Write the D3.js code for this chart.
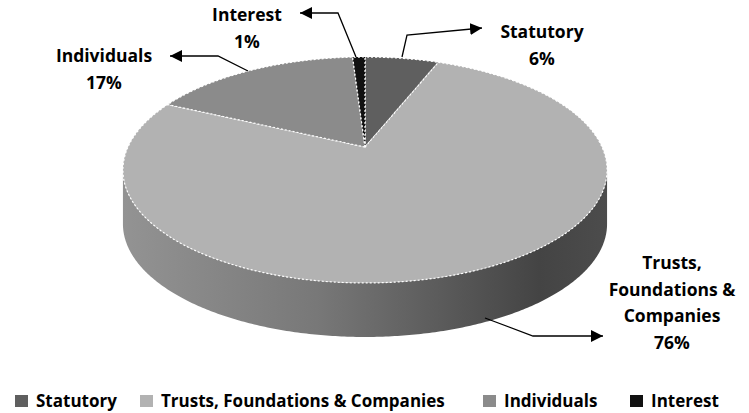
<!DOCTYPE html>
<html>
<head>
<meta charset="utf-8">
<script src="https://cdn.jsdelivr.net/npm/d3@7"></script>
<style>
  body { margin: 0; background: #fff; }
  svg { display: block; font-family: "Open Sans", sans-serif; font-weight: bold; }
</style>
</head>
<body>
<div id="chart"></div>
<script>
// data
const categories = ["Statutory", "Trusts, Foundations & Companies", "Individuals", "Interest"];
const values = [6, 76, 17, 1];
const labelLines = [["Statutory"], ["Trusts,", "Foundations &", "Companies"], ["Individuals"], ["Interest"]];
const sliceColors = ["#5f5f5f", "#b2b2b2", "#8b8b8b", "#111111"];

const width = 749, height = 413;

const svg = d3.select("#chart").append("svg")
    .attr("width", width)
    .attr("height", height);

const color = d3.scaleOrdinal().domain(categories).range(sliceColors);

// fake 3d: perspective tilted disc
const cx = 365, cy = 147;   // apex of the wedges
const a = 237, b = 108.3, c = 0.2035;
const depth = 54;

function project(theta, drop) {
    const u = Math.sin(theta), v = Math.cos(theta);
    const s = 1 / (1 + c * v);
    return [cx + a * u * s, cy - b * v * s + drop];
}

function arcPoints(t0, t1, drop) {
    const n = Math.max(2, Math.ceil(Math.abs(t1 - t0) / 0.01));
    return d3.range(n + 1).map(i => project(t0 + (t1 - t0) * i / n, drop));
}

const pie = d3.pie().sort(null).value(d => d.value);
const slices = pie(categories.map((k, i) => ({ key: k, value: values[i] })));

// side gradient
const defs = svg.append("defs");
const grad = defs.append("linearGradient")
    .attr("id", "sideGrad")
    .attr("x1", "0%").attr("x2", "100%").attr("y1", "0%").attr("y2", "0%");
[[0, "#939393"], [0.4, "#787878"], [0.7, "#565656"], [0.86, "#444444"], [1, "#4c4c4c"]]
    .forEach(s => grad.append("stop").attr("offset", s[0]).attr("stop-color", s[1]));

defs.append("marker")
    .attr("id", "arrow")
    .attr("viewBox", "0 0 10 10")
    .attr("refX", 10).attr("refY", 5)
    .attr("markerWidth", 12).attr("markerHeight", 12)
    .attr("markerUnits", "userSpaceOnUse")
    .attr("orient", "auto")
    .append("path")
    .attr("d", "M0,0L10,5L0,10Z")
    .attr("fill", "#000");

// visible part of the wall
const tR = Math.atan2(Math.sqrt(1 - c * c), -c);
const tL = 2 * Math.PI - tR;
const line = d3.line();

svg.append("g").selectAll("path")
    .data(slices.filter(d => Math.min(d.endAngle, tL) > Math.max(d.startAngle, tR)))
    .join("path")
    .attr("d", d => {
        const lo = Math.max(d.startAngle, tR), hi = Math.min(d.endAngle, tL);
        const pts = arcPoints(lo, hi, 0).concat(arcPoints(hi, lo, depth));
        return line(pts) + "Z";
    })
    .attr("fill", "url(#sideGrad)");

// top of the pie
svg.append("g").selectAll("path")
    .data(slices)
    .join("path")
    .attr("d", d => line([[cx, cy]].concat(arcPoints(d.startAngle, d.endAngle, 0))) + "Z")
    .attr("fill", d => color(d.data.key))
    .attr("stroke", "#fff")
    .attr("stroke-width", 1.2)
    .attr("stroke-dasharray", "2,2")
    .attr("stroke-linejoin", "round");

// leader lines (annotation)
const leaders = [
    [[402, 57], [407, 35], [482, 28]],
    [[485, 318], [533, 336], [603, 336]],
    [[248, 71], [218, 56], [170, 56]],
    [[356, 57], [338, 13], [300, 13]]
];
svg.append("g").selectAll("path")
    .data(leaders)
    .join("path")
    .attr("d", d => line(d))
    .attr("fill", "none")
    .attr("stroke", "#000")
    .attr("stroke-width", 1.3)
    .attr("marker-end", "url(#arrow)");

// data labels
const labelPos = [[542, 38], [672, 269], [104, 62], [247, 21]];
const lineH = 26.5;
const lbl = svg.append("g").attr("font-size", 17.5).attr("text-anchor", "middle").attr("fill", "#000");
slices.forEach((d, i) => {
    const t = lbl.append("text").attr("x", labelPos[i][0]).attr("y", labelPos[i][1]);
    const lines = labelLines[i].concat([d3.format(".0%")(d.value / d3.sum(values))]);
    lines.forEach((s, j) => {
        t.append("tspan").attr("x", labelPos[i][0]).attr("dy", j === 0 ? 0 : lineH).text(s);
    });
});

// legend
const legendX = [15, 140, 483, 630];
const leg = svg.append("g").attr("font-size", 17);
categories.forEach((k, i) => {
    const g = leg.append("g").attr("transform", `translate(${legendX[i]},395)`);
    g.append("rect").attr("width", 13).attr("height", 12).attr("fill", color(k));
    g.append("text").attr("x", 21).attr("y", 12).text(k);
});
</script>
</body>
</html>
